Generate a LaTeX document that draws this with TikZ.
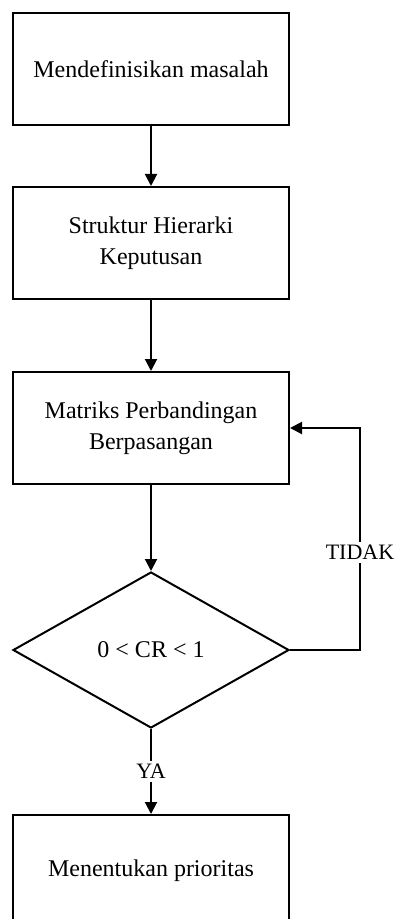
\documentclass[tikz,border=0pt]{standalone}
\usepackage{fontspec}
\setmainfont{Liberation Serif}
\usetikzlibrary{positioning,shapes.geometric,arrows.meta}

\begin{document}
\begin{tikzpicture}[line width=1pt, font=\fontsize{12}{15.3}\selectfont,
  box/.style = {draw, rectangle, minimum width=138pt, minimum height=56pt, align=center},
  dec/.style = {draw, diamond, minimum width=138pt, minimum height=78pt, inner sep=0pt},
  flow/.style = {-{Triangle[width=6pt,length=6pt]}},
  lbl/.style = {fill=white, inner sep=1.5pt, font=\fontsize{11}{13}\selectfont}]
\useasboundingbox (0,0) rectangle (197pt,-459.5pt);
\clip (0,0) rectangle (197pt,-459.5pt);
\node[box] (masalah) at (75.5pt,-34.5pt) {Mendefinisikan masalah};
\node[box] (hierarki) [below=30pt of masalah] {Struktur Hierarki\\Keputusan};
\node[box] (matriks) [below=35.5pt of hierarki] {Matriks Perbandingan\\Berpasangan};
\node[dec] (cr) [below=43pt of matriks] {0 < CR < 1};
\node[box] (prioritas) [below=42.5pt of cr] {Menentukan prioritas};
\draw[flow] (masalah) -- (hierarki);
\draw[flow] (hierarki) -- (matriks);
\draw[flow] (matriks) -- (cr);
\draw[flow] (cr) -- node[lbl] {YA} (prioritas);
\draw[flow] (cr.east) -- ++(35pt,0) |- node[lbl, pos=0.22] {TIDAK} (matriks.east);
\end{tikzpicture}
\end{document}
